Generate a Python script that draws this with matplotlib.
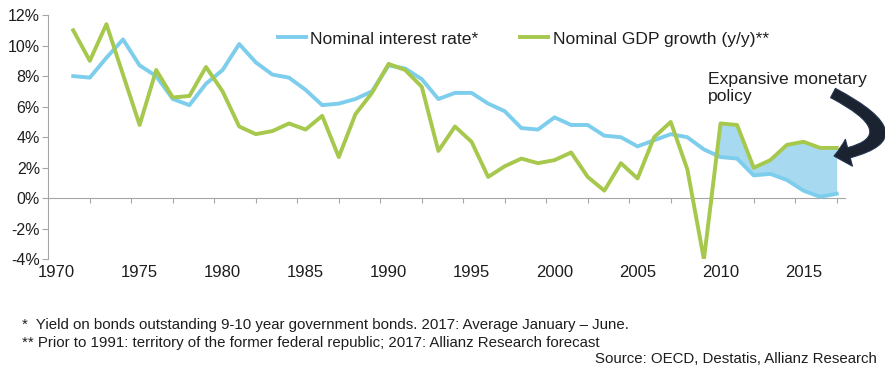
import numpy as np
import matplotlib
matplotlib.use('Agg')
import matplotlib.pyplot as plt
from matplotlib import font_manager
from matplotlib.patches import FancyArrowPatch
from matplotlib.path import Path

plt.rcParams['font.family'] = ['Liberation Sans', 'DejaVu Sans']

# data
years = np.arange(1971, 2018)
interest = [8.0, 7.9, 9.2, 10.4, 8.7, 8.0, 6.5, 6.1, 7.5, 8.4,
            10.1, 8.9, 8.1, 7.9, 7.1, 6.1, 6.2, 6.5, 7.0, 8.7,
            8.5, 7.8, 6.5, 6.9, 6.9, 6.2, 5.7, 4.6, 4.5, 5.3,
            4.8, 4.8, 4.1, 4.0, 3.4, 3.8, 4.2, 4.0, 3.2, 2.7,
            2.6, 1.5, 1.6, 1.2, 0.5, 0.1, 0.3]
gdp = [11.0, 9.0, 11.4, 8.1, 4.8, 8.4, 6.6, 6.7, 8.6, 7.0,
       4.7, 4.2, 4.4, 4.9, 4.5, 5.4, 2.7, 5.5, 6.9, 8.8,
       8.4, 7.3, 3.1, 4.7, 3.7, 1.4, 2.1, 2.6, 2.3, 2.5,
       3.0, 1.4, 0.5, 2.3, 1.3, 4.0, 5.0, 1.9, -4.0, 4.9,
       4.8, 2.0, 2.5, 3.5, 3.7, 3.3, 3.3]
label_years = [1970, 1975, 1980, 1985, 1990, 1995, 2000, 2005, 2010, 2015]
yticks = [-4, -2, 0, 2, 4, 6, 8, 10, 12]

blue = '#7dcdec'
green = '#a6c84c'
fill_col = '#a7daf0'
grey = '#a6a6a6'
txt = '#1e1e1e'

fig = plt.figure(figsize=(8.85, 3.68), dpi=100)
ax = fig.add_axes([0.0546, 0.2951, 0.9002, 0.6641])

interest = np.array(interest)
gdp = np.array(gdp)
mask = (years >= 2009) & (gdp > interest)
ax.fill_between(years, interest, gdp, where=mask, interpolate=True,
                color=fill_col, lw=0, zorder=1)
ax.plot(years, interest, color=blue, lw=2.8, label='Nominal interest rate*', zorder=3)
ax.plot(years, gdp, color=green, lw=2.8, label='Nominal GDP growth (y/y)**', zorder=3)

ax.set_xlim(1969.5, 2017.5)
ax.set_ylim(-4, 12)
ax.set_yticks(yticks, [f'{v}%' for v in yticks])
ax.set_xticks(label_years, [str(y) for y in label_years])

for s in ['top', 'right', 'bottom']:
    ax.spines[s].set_visible(False)
ax.spines['left'].set_color(grey)
ax.spines['left'].set_linewidth(0.8)
ax.tick_params(axis='y', color=grey, length=4, width=0.8, labelsize=11.5,
               labelcolor=txt, pad=2)
ax.tick_params(axis='x', length=0, labelsize=12, labelcolor=txt, pad=4)

# zero line with its own tick marks
sec = ax.secondary_xaxis(0.25)
sec.set_xticks(np.arange(1972, 2018, 2.5))
sec.tick_params(axis='x', labelbottom=False, color=grey, length=3.5, width=0.8)
sec.spines['bottom'].set_color(grey)
sec.spines['bottom'].set_linewidth(0.8)

ax.legend(loc='center left', bbox_to_anchor=(0.288, 0.902), ncol=2, frameon=False,
          fontsize=12.6, handlelength=1.6, handletextpad=0.25, columnspacing=2.4,
          borderpad=0, borderaxespad=0, labelcolor=txt)

fig.text(708 / 885, 1 - 72 / 368, 'Expansive monetary\npolicy', fontsize=12.6,
         color=txt, ha='left', va='top', linespacing=1.15)

# curved arrow, points given in pixels from the top left
pts = [(833, 93), (922, 140), (834, 156)]
arrow_path = Path([(px / 885, 1 - py / 368) for px, py in pts],
                  [Path.MOVETO, Path.CURVE3, Path.CURVE3])
arrow = FancyArrowPatch(path=arrow_path, transform=fig.transFigure,
                        arrowstyle='simple,head_width=20,head_length=11,tail_width=7.5',
                        facecolor='#1b2230', edgecolor='#24344f', lw=0.8)
fig.patches.append(arrow)

# footnotes in a narrow face if one is installed
names = {f.name for f in font_manager.fontManager.ttflist}
if 'Liberation Sans Narrow' in names:
    foot, fsize = ['Liberation Sans Narrow', 'DejaVu Sans'], 12
else:
    foot, fsize = ['Liberation Sans', 'DejaVu Sans'], 10.8
fig.text(22 / 885, 1 - 325 / 368,
         '*  Yield on bonds outstanding 9-10 year government bonds. 2017: Average January \u2013 June.',
         fontsize=fsize, family=foot, color=txt, va='center')
fig.text(22 / 885, 1 - 343 / 368,
         '** Prior to 1991: territory of the former federal republic; 2017: Allianz Research forecast',
         fontsize=fsize, family=foot, color=txt, va='center')
fig.text(877 / 885, 1 - 359 / 368, 'Source: OECD, Destatis, Allianz Research',
         fontsize=fsize, family=foot, color=txt, va='center', ha='right')

fig.savefig('out.png', dpi=100)
